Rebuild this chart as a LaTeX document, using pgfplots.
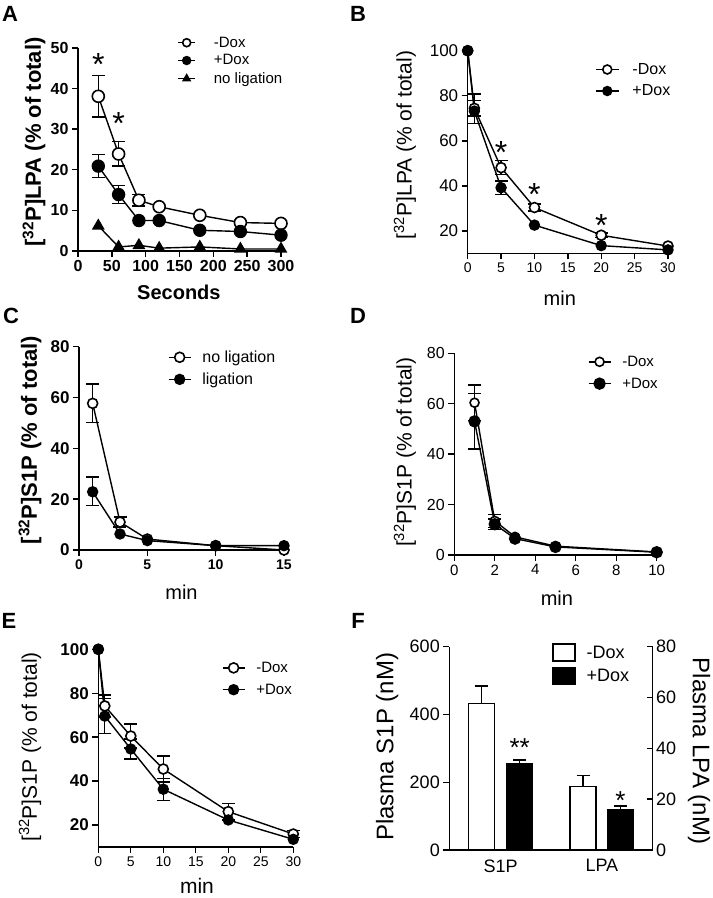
\documentclass[border=0pt]{standalone}
\usepackage{pgfplots}
\pgfplotsset{compat=1.18}
\usepackage{fontspec}
\setmainfont{Liberation Sans}
\newcommand{\fs}[1]{\fontsize{#1}{#1}\selectfont}
\pgfplotsset{
  panel/.style={
    anchor=south west, scale only axis, axis lines=left,
    axis line style={-, line width=1.4pt},
    tick align=outside, major tick length=6pt,
    tick style={line width=1.4pt, black},
    clip=false, enlargelimits=false,
    /pgf/number format/assume math mode=true,
    /pgf/number format/1000 sep={},
    legend cell align=left,
    legend style={draw=none, fill=none, anchor=north west, inner sep=0pt, outer sep=0pt,
      /tikz/every odd column/.append style={column sep=9pt}},
    legend image code/.code={\draw[mark repeat=2,mark phase=2,##1] plot coordinates {(0pt,0pt) (11pt,0pt) (22pt,0pt)};},
    ylabel style={anchor=center},
    xlabel style={anchor=center},
  },
  dO/.style={black, line width=1.4pt, mark=*, mark options={fill=white, line width=1.6pt}, mark size=#1},
  dF/.style={black, line width=1.4pt, mark=*, mark options={fill=black}, mark size=#1},
  eb/.style={only marks, mark=none, forget plot, black, error bars/.cd, y dir=both, y explicit, error bar style={line width=1.4pt}, error mark options={rotate=90, line width=1.4pt, mark size=#1}},
  ebar/.style={error bars/.cd, y dir=plus, y explicit, error bar style={line width=1.4pt}, error mark options={rotate=90, line width=1.4pt, mark size=6.5pt}},
}
\begin{document}
\begin{tikzpicture}[x=1pt,y=1pt]
\path[use as bounding box] (0,0) rectangle (713,898);
% panel letters
\node[font=\fs{22}\bfseries] at (10,884) {A};
\node[font=\fs{22}\bfseries] at (358,884) {B};
\node[font=\fs{22}\bfseries] at (11,582) {C};
\node[font=\fs{22}\bfseries] at (358,582) {D};
\node[font=\fs{22}\bfseries] at (9,277) {E};
\node[font=\fs{22}\bfseries] at (358,277) {F};

% ---------------- A
\begin{axis}[panel, at={(78pt,647pt)}, width=203pt, height=203pt,
  xmin=0, xmax=300, ymin=0, ymax=50, xtick={0,50,...,300}, ytick={0,10,...,50},
  ticklabel style={font=\fs{16}\bfseries},
  xlabel={Seconds}, ylabel={[\textsuperscript{32}P]LPA (\% of total)},
  xlabel style={font=\fs{20}\bfseries, at={(axis description cs:0.497,-0.202)}},
  ylabel style={font=\fs{22}\bfseries, at={(axis description cs:-0.217,0.537)}},
  legend style={at={(axis description cs:0.49,1.065)}, font=\fs{15}, row sep=2pt,
    /tikz/every odd column/.append style={column sep=16pt}},
  legend image code/.code={\draw[mark repeat=2,mark phase=2,#1,mark size=4pt] plot coordinates {(0pt,0pt) (8.5pt,0pt) (17pt,0pt)};}]
\addplot[eb=6.5pt] coordinates {(30,38.1) +- (0,5.1) (60,23.9) +- (0,3.0) (90,12.5) +- (0,1.4)};
\addplot[eb=6.5pt] coordinates {(30,20.9) +- (0,2.8) (60,13.9) +- (0,2.2)};
\addplot[dO=6pt] coordinates {(30,38.1) (60,23.9) (90,12.5) (120,10.9) (180,8.8) (240,7.0) (300,6.8)};
\addplot[dF=6pt] coordinates {(30,20.9) (60,13.9) (90,7.5) (120,7.5) (180,5.1) (240,4.8) (300,3.9)};
\addplot[black, line width=1.4pt, mark=triangle*, mark size=6pt] coordinates {(30,6.2) (60,1.0) (90,1.4) (120,0.7) (180,1.0) (240,0.5) (300,0.5)};
\legend{-Dox,+Dox,no ligation}
\node[font=\fs{32}, yshift=-6pt] at (axis cs:30,47.5) {*};
\node[font=\fs{32}, yshift=-6pt] at (axis cs:60,33) {*};
\end{axis}

% ---------------- B
\begin{axis}[panel, at={(467.7pt,644.5pt)}, width=200.3pt, height=202.8pt,
  xmin=0, xmax=30, ymin=10, ymax=100, xtick={0,5,...,30}, ytick={20,40,...,100},
  yticklabel style={font=\fs{17}}, xticklabel style={font=\fs{14}},
  xlabel={min}, ylabel={[\textsuperscript{32}P]LPA (\% of total)},
  xlabel style={font=\fs{20}, at={(axis description cs:0.46,-0.22)}},
  ylabel style={font=\fs{21}, at={(axis description cs:-0.313,0.535)}},
  legend style={at={(axis description cs:0.636,0.948)}, font=\fs{16}, row sep=5pt,
    /tikz/every odd column/.append style={column sep=11pt}},
  legend image code/.code={\draw[mark repeat=2,mark phase=2,#1,mark size=4.5pt] plot coordinates {(0pt,0pt) (11.5pt,0pt) (23pt,0pt)};}]
\addplot[eb=6.5pt] coordinates {(1,74.4) +- (0,3.4) (5,48.1) +- (0,3.1) (10,30.4) +- (0,1.5) (20,18.1) +- (0,1.0)};
\addplot[eb=6.5pt] coordinates {(1,74.2) +- (0,6.6) (5,39.2) +- (0,3.0)};
\addplot[dO=5pt] coordinates {(0,100) (1,74.4) (5,48.1) (10,30.4) (20,18.1) (30,13.3)};
\addplot[dF=5pt] coordinates {(0,100) (1,73.2) (5,39.2) (10,22.6) (20,13.5) (30,11.6)};
\legend{-Dox,+Dox}
\node[font=\fs{32}, yshift=-6pt] at (axis cs:5,57.4) {*};
\node[font=\fs{32}, yshift=-6pt] at (axis cs:10,38.9) {*};
\node[font=\fs{32}, yshift=-6pt] at (axis cs:20,24.9) {*};
\end{axis}

% ---------------- C
\begin{axis}[panel, at={(79pt,348pt)}, width=205pt, height=203.3pt,
  xmin=0, xmax=15, ymin=0, ymax=80, xtick={0,5,10,15}, ytick={0,20,...,80},
  yticklabel style={font=\fs{17}\bfseries}, xticklabel style={font=\fs{14}\bfseries},
  xlabel={min}, ylabel={[\textsuperscript{32}P]S1P (\% of total)},
  xlabel style={font=\fs{20}, at={(axis description cs:0.50,-0.21)}},
  ylabel style={font=\fs{22}\bfseries, at={(axis description cs:-0.239,0.541)}},
  legend style={at={(axis description cs:0.434,0.99)}, font=\fs{16}, row sep=5pt}]
\addplot[eb=6.5pt] coordinates {(1,57.7) +- (0,7.6) (3,11.0) +- (0,2.0)};
\addplot[eb=6.5pt] coordinates {(1,23.1) +- (0,5.7)};
\addplot[dO=5pt] coordinates {(1,57.7) (3,11.0) (5,4.3) (10,1.7) (15,0)};
\addplot[dF=5pt] coordinates {(1,22.9) (3,6.3) (5,3.7) (10,1.7) (15,1.7)};
\legend{no ligation,ligation}
\end{axis}

% ---------------- D
\begin{axis}[panel, at={(454.3pt,343pt)}, width=202.4pt, height=201.7pt,
  xmin=0, xmax=10, ymin=0, ymax=80, xtick={0,2,...,10}, ytick={0,20,...,80},
  yticklabel style={font=\fs{16}}, xticklabel style={font=\fs{15}},
  xlabel={min}, ylabel={[\textsuperscript{32}P]S1P (\% of total)},
  xlabel style={font=\fs{20}, at={(axis description cs:0.507,-0.213)}},
  ylabel style={font=\fs{21}, at={(axis description cs:-0.244,0.51)}},
  legend style={at={(axis description cs:0.66,0.997)}, font=\fs{15}, row sep=6pt}]
\addplot[eb=6.5pt] coordinates {(1,60.4) +- (0,7.0) (2,13.5) +- (0,2.5)};
\addplot[eb=6.5pt] coordinates {(1,53.0) +- (0,11.0) (2,12.2) +- (0,2.0)};
\addplot[dO=4.5pt] coordinates {(1,60.4) (2,13.5) (3,7.2) (5,3.5) (10,1.2)};
\addplot[dF=5.5pt] coordinates {(1,53.0) (2,12.2) (3,6.5) (5,3.2) (10,1.1)};
\legend{-Dox,+Dox}
\end{axis}

% ---------------- E
\begin{axis}[panel, at={(98.3pt,51pt)}, width=195pt, height=197.7pt,
  xmin=0, xmax=30, ymin=10, ymax=100, xtick={0,5,...,30}, ytick={20,40,...,100},
  yticklabel style={font=\fs{17}\bfseries}, xticklabel style={font=\fs{14}},
  xlabel={min}, ylabel={[\textsuperscript{32}P]S1P (\% of total)},
  xlabel style={font=\fs{21}, at={(axis description cs:0.506,-0.198)}},
  ylabel style={font=\fs{21}, at={(axis description cs:-0.35,0.506)}},
  legend style={at={(axis description cs:0.634,0.946)}, font=\fs{15}, row sep=6pt}]
\addplot[eb=6.5pt] coordinates {(1,74.2) +- (0,5.0) (5,60.5) +- (0,5.5) (10,45.5) +- (0,6.0) (20,26.1) +- (0,3.8) (30,15.9) +- (0,1.5)};
\addplot[eb=6.5pt] coordinates {(1,69.6) +- (0,8.0) (5,54.6) +- (0,4.5) (10,36.3) +- (0,5.0)};
\addplot[dO=5pt] coordinates {(0,100) (1,74.2) (5,60.5) (10,45.5) (20,26.1) (30,15.9)};
\addplot[dF=5pt] coordinates {(0,100) (1,69.6) (5,54.6) (10,36.3) (20,22.3) (30,13.5)};
\legend{-Dox,+Dox}
\end{axis}

% ---------------- F
\begin{axis}[panel, at={(449.3pt,48pt)}, width=203.4pt, height=203.3pt,
  xmin=0, xmax=10, ymin=0, ymax=600, ytick={0,200,400,600},
  xtick={2.52,7.5}, xticklabels={S1P,LPA}, xtick style={draw=none},
  yticklabel style={font=\fs{18}}, xticklabel style={font=\fs{18}},
  ylabel={Plasma S1P (nM)},
  ylabel style={font=\fs{24}, at={(axis description cs:-0.306,0.507)}},
  legend style={at={(axis description cs:0.505,1.018)}, font=\fs{18}, row sep=5pt},
  legend image code/.code={\draw[#1] (0pt,-8pt) rectangle (22pt,9pt);}]
\addplot[ybar, bar width=1.28, bar shift=0pt, fill=white, draw=black, line width=1.5pt, ebar]
  coordinates {(1.574,432.8) +- (0,51)};
\addplot[ybar, bar width=1.28, bar shift=0pt, fill=black, draw=black, line width=1.5pt, ebar]
  coordinates {(3.459,255.7) +- (0,10)};
\legend{-Dox,+Dox}
\node[font=\fs{26}, yshift=-5pt] at (axis cs:3.459,318) {**};
\end{axis}
\begin{axis}[panel, at={(449.3pt,48pt)}, width=203.4pt, height=203.3pt,
  xmin=0, xmax=10, ymin=0, ymax=80, ytick={0,20,...,80},
  axis x line=none, axis y line*=right, tick align=inside,
  yticklabel style={font=\fs{18}},
  ylabel={Plasma LPA (nM)},
  ylabel style={font=\fs{24}, rotate=180, at={(axis description cs:1.228,0.487)}}]
\addplot[ybar, bar width=1.28, bar shift=0pt, fill=white, draw=black, line width=1.5pt, ebar]
  coordinates {(6.574,24.9) +- (0,4.3)};
\addplot[ybar, bar width=1.28, bar shift=0pt, fill=black, draw=black, line width=1.5pt, ebar]
  coordinates {(8.418,15.7) +- (0,1.6)};
\node[font=\fs{26}, yshift=-5pt] at (axis cs:8.418,21.6) {*};
\end{axis}
\end{tikzpicture}
\end{document}
